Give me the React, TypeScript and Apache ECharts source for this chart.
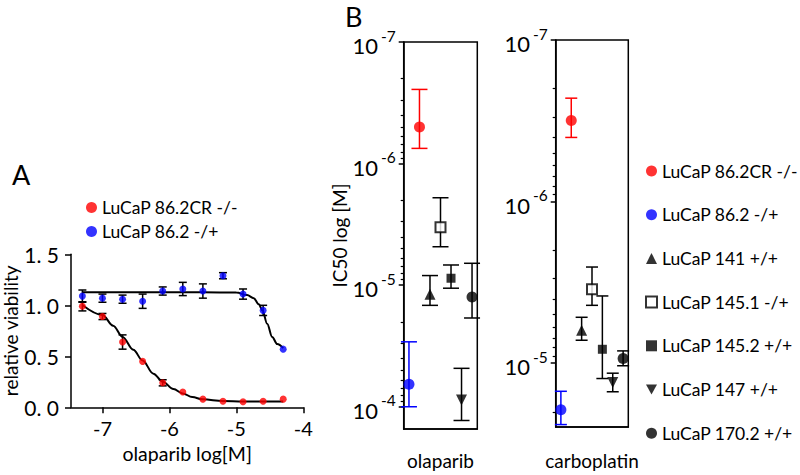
import React, { useEffect, useRef } from "react";
import * as echarts from "echarts";

// ---------- Panel A data ----------
const DOSE_LOG = [-7.3, -7.0, -6.7, -6.4, -6.1, -5.8, -5.5, -5.2, -4.9, -4.6, -4.3];
const RED_VIAB = [0.99, 0.89, 0.64, 0.45, 0.24, 0.15, 0.08, 0.06, 0.055, 0.06, 0.08];
const RED_ERR = [0.045, 0.03, 0.07, 0, 0.03, 0, 0, 0, 0, 0, 0];
const BLUE_VIAB = [1.09, 1.07, 1.06, 1.04, 1.14, 1.16, 1.14, 1.29, 1.11, 0.95, 0.57];
const BLUE_ERR = [0.06, 0.04, 0.04, 0.07, 0.04, 0.065, 0.07, 0.03, 0.05, 0.05, 0];
const RED_FIT_X = [-7.3, -7.0, -6.84, -6.7, -6.54, -6.4, -6.24, -6.1, -5.94, -5.8, -5.66, -5.5, -5.2, -4.9, -4.3];
const RED_FIT_Y = [1.003, 0.905, 0.8, 0.69, 0.565, 0.458, 0.33, 0.25, 0.18, 0.136, 0.1, 0.078, 0.062, 0.058, 0.058];
const BLUE_FIT_X = [-7.3, -6.5, -5.5, -5.0, -4.84, -4.74, -4.665, -4.61, -4.54, -4.465, -4.39, -4.3];
const BLUE_FIT_Y = [1.127, 1.127, 1.127, 1.125, 1.1, 1.07, 1.01, 0.95, 0.82, 0.69, 0.62, 0.58];
const A_X_TICKS = [-7, -6, -5, -4];
const A_LEGEND = ["LuCaP 86.2CR -/-", "LuCaP 86.2 -/+"];

// ---------- Panel B data (log10 IC50 in M) ----------
const LINES = [
  "LuCaP 86.2CR -/-",
  "LuCaP 86.2 -/+",
  "LuCaP 141 +/+",
  "LuCaP 145.1 -/+",
  "LuCaP 145.2 +/+",
  "LuCaP 147 +/+",
  "LuCaP 170.2 +/+",
];
const B_CATEGORIES = [
  "LuCaP 86.2 -/+",
  "LuCaP 86.2CR -/-",
  "LuCaP 141 +/+",
  "LuCaP 145.1 -/+",
  "LuCaP 145.2 +/+",
  "LuCaP 147 +/+",
  "LuCaP 170.2 +/+",
];
const OLA_IC50 = [-6.3, -4.185, -4.926, -5.477, -5.057, -4.055, -4.902];
const OLA_LO = [-6.61, -4.534, -5.079, -5.719, -5.166, -4.316, -5.18];
const OLA_HI = [-6.125, -4.0, -4.834, -5.316, -4.975, -3.887, -4.73];
const CARBO_IC50 = [-6.502, -4.712, -5.204, -5.457, -5.086, -4.881, -5.029];
const CARBO_LO = [-6.64, -4.826, -5.284, -5.595, -5.416, -4.938, -5.076];
const CARBO_HI = [-6.397, -4.62, -5.142, -5.358, -4.905, -4.823, -4.984];
const OLA_AXIS = [-7, -3.817];
const CARBO_AXIS = [-7, -4.605];
const OLA_MAJOR = [-7, -6, -5, -4];
const CARBO_MAJOR = [-7, -6, -5];
const MINOR_MULT = [2, 3, 4, 5, 6, 7, 8, 9];

// ---------- styles ----------
const FONT = "Lato";
const RED = "#ff0000";
const BLUE = "#0000ff";
const BLACK = "#000000";
const DOWN_TRI = "path://M0,0L10,0L5,9Z";
const LEGEND_FS = 17.5;
const MARKERS = [
  { symbol: "circle", size: 11, itemStyle: { color: RED } },
  { symbol: "circle", size: 11, itemStyle: { color: BLUE } },
  { symbol: "triangle", size: 11, itemStyle: { color: BLACK } },
  { symbol: "rect", size: 10, itemStyle: { color: "#ffffff", borderColor: BLACK, borderWidth: 2 } },
  { symbol: "rect", size: 9, itemStyle: { color: BLACK } },
  { symbol: DOWN_TRI, size: 11, itemStyle: { color: BLACK } },
  { symbol: "circle", size: 11, itemStyle: { color: BLACK } },
];
const BAR_COLORS = [RED, BLUE, BLACK, BLACK, BLACK, BLACK, BLACK];

function minorTicks(range: number[]) {
  const out: number[] = [];
  for (let d = Math.floor(range[0]); d <= Math.ceil(range[1]); d++) {
    for (const k of MINOR_MULT) {
      const v = d + Math.log10(k);
      if (v > range[0] && v < range[1]) out.push(v);
    }
  }
  return out;
}

function errBarRenderer(cap: number, colorOf: (i: number) => string) {
  return (params: any, api: any) => {
    const x = api.value(0);
    const p1 = api.coord([x, api.value(1)]);
    const p2 = api.coord([x, api.value(2)]);
    const style = { stroke: colorOf(params.dataIndex), lineWidth: 1.5, fill: "none" };
    return {
      type: "group",
      children: [
        { type: "line", shape: { x1: p1[0], y1: p1[1], x2: p2[0], y2: p2[1] }, style },
        { type: "line", shape: { x1: p1[0] - cap, y1: p1[1], x2: p1[0] + cap, y2: p1[1] }, style },
        { type: "line", shape: { x1: p2[0] - cap, y1: p2[1], x2: p2[0] + cap, y2: p2[1] }, style },
      ],
    };
  };
}

const axisLineStyle = { show: true, lineStyle: { color: BLACK, width: 1.5 } };
const logLabel = (v: number) => `{b|10}{s|${Math.round(v)}}`;
const logRich = {
  b: { fontSize: 22, fontFamily: FONT, color: BLACK, padding: [7, 0, 0, 0] },
  s: { fontSize: 15.5, fontFamily: FONT, color: BLACK, verticalAlign: "top", padding: [0, 0, 0, 3] },
};

function bPanelAxes(gridIndex: number, range: number[], major: number[], name: string, nameGap: number, withTitle: boolean) {
  const yMajor: any = {
    type: "value",
    gridIndex,
    inverse: true,
    min: range[0],
    max: range[1],
    position: "left",
    axisLine: axisLineStyle,
    axisTick: { show: true, customValues: major, length: 5, lineStyle: { color: BLACK, width: 1.5 } },
    axisLabel: { customValues: major, formatter: logLabel, rich: logRich, margin: 8 },
    splitLine: { show: false },
  };
  if (withTitle) {
    yMajor.name = "IC50 log [M]";
    yMajor.nameLocation = "middle";
    yMajor.nameGap = 45;
    yMajor.nameTextStyle = { fontSize: 19, fontFamily: FONT, color: BLACK };
  }
  const yMinor = {
    type: "value",
    gridIndex,
    inverse: true,
    min: range[0],
    max: range[1],
    position: "left",
    offset: 0,
    axisLine: { show: false },
    axisTick: { show: true, customValues: minorTicks(range), length: 3, lineStyle: { color: BLACK, width: 1.2 } },
    axisLabel: { show: false },
    splitLine: { show: false },
  };
  const x = {
    type: "category",
    gridIndex,
    data: B_CATEGORIES,
    boundaryGap: true,
    axisLine: axisLineStyle,
    axisTick: { show: false },
    axisLabel: { show: false },
    name,
    nameLocation: "middle",
    nameGap,
    nameTextStyle: { fontSize: 19, fontFamily: FONT, color: BLACK },
  };
  return { x, yMajor, yMinor };
}

function bPanelSeries(xAxisIndex: number, yAxisIndex: number, vals: number[], lo: number[], hi: number[], cap: number) {
  const out: any[] = [];
  out.push({
    type: "custom",
    xAxisIndex,
    yAxisIndex,
    z: 2,
    renderItem: errBarRenderer(cap, (i) => BAR_COLORS[i]),
    data: LINES.map((l, i) => [B_CATEGORIES.indexOf(l), lo[i], hi[i]]),
  });
  LINES.forEach((l, i) => {
    out.push({
      type: "scatter",
      name: l,
      xAxisIndex,
      yAxisIndex,
      z: 5,
      symbol: MARKERS[i].symbol,
      symbolSize: MARKERS[i].size,
      itemStyle: MARKERS[i].itemStyle,
      data: [[B_CATEGORIES.indexOf(l), vals[i]]],
    });
  });
  return out;
}

export default function App() {
  const ref = useRef<HTMLDivElement>(null);
  useEffect(() => {
    if (!ref.current) return;
    const chart = echarts.init(ref.current, null, { renderer: "svg" });

    const ola = bPanelAxes(1, OLA_AXIS, OLA_MAJOR, "olaparib", 22, true);
    const carbo = bPanelAxes(2, CARBO_AXIS, CARBO_MAJOR, "carboplatin", 24, false);

    const aErr = (vals: number[], errs: number[]) =>
      DOSE_LOG.map((x, i) => [x, vals[i] - errs[i], vals[i] + errs[i]]).filter((_, i) => errs[i] > 0);

    const option: any = {
      animation: false,
      backgroundColor: "#ffffff",
      textStyle: { fontFamily: FONT, color: BLACK },
      grid: [
        { left: 71, top: 254.3, width: 232.3, height: 153, show: false },
        { left: 403.7, top: 42, width: 73.6, height: 388.5, show: true, borderColor: BLACK, borderWidth: 1.5 },
        { left: 555.7, top: 40, width: 72.6, height: 388.5, show: true, borderColor: BLACK, borderWidth: 1.5 },
      ],
      xAxis: [
        {
          type: "value",
          gridIndex: 0,
          min: -7.47,
          max: -4,
          axisLine: axisLineStyle,
          axisTick: { show: true, customValues: A_X_TICKS, length: 6, lineStyle: { color: BLACK, width: 1.5 } },
          axisLabel: { customValues: A_X_TICKS, fontSize: 20, color: BLACK, margin: 11, formatter: (v: number) => String(v) },
          splitLine: { show: false },
          name: "olaparib log[M]",
          nameLocation: "middle",
          nameGap: 36,
          nameTextStyle: { fontSize: 19.5, fontFamily: FONT, color: BLACK },
        },
        ola.x,
        carbo.x,
      ],
      yAxis: [
        {
          type: "value",
          gridIndex: 0,
          min: 0,
          max: 1.5,
          interval: 0.5,
          axisLine: axisLineStyle,
          axisTick: { show: true, length: 6, lineStyle: { color: BLACK, width: 1.5 } },
          axisLabel: { fontSize: 21, color: BLACK, margin: 12, formatter: (v: number) => v.toFixed(1).replace(".", ". ") },
          splitLine: { show: false },
          name: "relative viability",
          nameLocation: "middle",
          nameGap: 50,
          nameTextStyle: { fontSize: 19, fontFamily: FONT, color: BLACK },
        },
        ola.yMajor,
        ola.yMinor,
        carbo.yMajor,
        carbo.yMinor,
      ],
      legend: [
        {
          data: A_LEGEND,
          orient: "vertical",
          left: 86,
          top: 198.5,
          padding: 0,
          itemWidth: 11,
          itemHeight: 11,
          itemGap: 5.9,
          selectedMode: false,
          textStyle: { fontSize: LEGEND_FS, fontFamily: FONT, color: BLACK },
        },
        {
          data: LINES.map((l, i) =>
            i === 3
              ? { name: l, icon: "rect", itemStyle: { color: "#ffffff", borderColor: BLACK, borderWidth: 2 } }
              : { name: l }
          ),
          orient: "vertical",
          left: 645,
          top: 162,
          padding: 0,
          itemWidth: 11,
          itemHeight: 11,
          itemGap: 25.7,
          selectedMode: false,
          textStyle: { fontSize: LEGEND_FS, fontFamily: FONT, color: BLACK },
        },
      ],
      graphic: [
        { type: "text", left: 12, top: 161, style: { text: "A", fontSize: 27, fontFamily: FONT, fill: BLACK } },
        { type: "text", left: 345, top: 3, style: { text: "B", fontSize: 27, fontFamily: FONT, fill: BLACK } },
      ],
      series: [
        {
          type: "custom",
          xAxisIndex: 0,
          yAxisIndex: 0,
          z: 2,
          renderItem: errBarRenderer(4, () => BLACK),
          data: aErr(RED_VIAB, RED_ERR),
        },
        {
          type: "custom",
          xAxisIndex: 0,
          yAxisIndex: 0,
          z: 2,
          renderItem: errBarRenderer(4, () => BLACK),
          data: aErr(BLUE_VIAB, BLUE_ERR),
        },
        {
          type: "line",
          xAxisIndex: 0,
          yAxisIndex: 0,
          z: 3,
          showSymbol: false,
          smooth: 0.35,
          smoothMonotone: "x",
          lineStyle: { color: BLACK, width: 2 },
          data: RED_FIT_X.map((x, i) => [x, RED_FIT_Y[i]]),
        },
        {
          type: "line",
          xAxisIndex: 0,
          yAxisIndex: 0,
          z: 3,
          showSymbol: false,
          smooth: 0.35,
          smoothMonotone: "x",
          lineStyle: { color: BLACK, width: 2 },
          data: BLUE_FIT_X.map((x, i) => [x, BLUE_FIT_Y[i]]),
        },
        {
          type: "scatter",
          name: A_LEGEND[0],
          xAxisIndex: 0,
          yAxisIndex: 0,
          z: 5,
          symbolSize: 7,
          itemStyle: { color: RED },
          data: DOSE_LOG.map((x, i) => [x, RED_VIAB[i]]),
        },
        {
          type: "scatter",
          name: A_LEGEND[1],
          xAxisIndex: 0,
          yAxisIndex: 0,
          z: 5,
          symbolSize: 7,
          itemStyle: { color: BLUE },
          data: DOSE_LOG.map((x, i) => [x, BLUE_VIAB[i]]),
        },
        ...bPanelSeries(1, 1, OLA_IC50, OLA_LO, OLA_HI, 8),
        ...bPanelSeries(2, 3, CARBO_IC50, CARBO_LO, CARBO_HI, 6),
      ],
    };
    chart.setOption(option);
    return () => chart.dispose();
  }, []);
  return <div ref={ref} style={{ position: "absolute", left: 0, top: 0, width: 800, height: 475 }} />;
}
